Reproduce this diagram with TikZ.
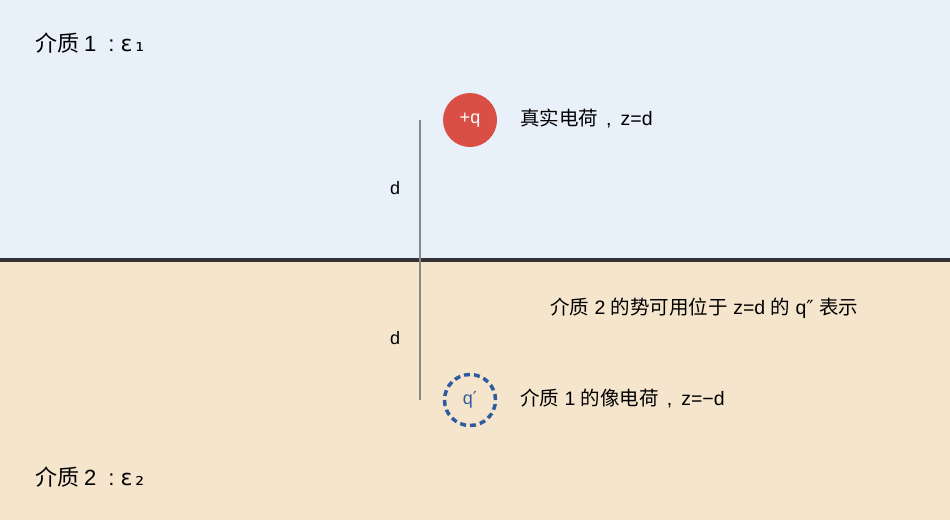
\documentclass[tikz,border=0pt]{standalone}
\usepackage{fontspec}
\setmainfont{Liberation Sans}
\newfontfamily\cjk{Noto Sans CJK SC}
\newfontfamily\dejavu{DejaVu Sans}
\usepackage{tikz}

\definecolor{topbg}{HTML}{E8F0FA}
\definecolor{botbg}{HTML}{F5E5CD}
\definecolor{chargered}{HTML}{D94F45}
\definecolor{imageblue}{HTML}{2E5C9E}
\definecolor{axisgray}{HTML}{888888}
\tikzset{
  lbl/.style={anchor=west,inner sep=0pt,font=\fontsize{19.5}{22}\selectfont,text=black},
  medium/.style={anchor=west,inner sep=0pt,font=\fontsize{22}{24}\selectfont,text=black},
  dlbl/.style={inner sep=0pt,font=\fontsize{18}{20}\selectfont}
}

\begin{document}
\begin{tikzpicture}[x=1pt,y=-1pt]
\useasboundingbox (0,0) rectangle (950,520);
\fill[topbg] (0,0) rectangle (950,260);
\fill[botbg] (0,260) rectangle (950,520);
\draw[line width=4pt,black!80] (0,260)--(950,260);

\coordinate (top) at (420,120);
\coordinate (bot) at (420,400);
\draw[axisgray,line width=2pt] (top)--(bot);

\node[circle,fill=chargered,minimum size=54pt,inner sep=0pt,text=white,font=\fontsize{18}{20}\selectfont] (q) at (470,120) {+q};
\node[circle,draw=imageblue,dash pattern=on 6pt off 4pt,line width=3.5pt,minimum size=51pt,inner sep=0pt,text=imageblue,font=\fontsize{18}{20}\selectfont] (qp) at (470,400) {q{\dejavu ′}};

\node[medium] (m1) at (35,43) {{\cjk 介质}\hspace{5pt}1\hspace{12pt}:\hspace{6pt}{\dejavu ε\hspace{3pt}₁}};
\node[medium] (m2) at (35,477) {{\cjk 介质}\hspace{5pt}2\hspace{12pt}:\hspace{6pt}{\dejavu ε\hspace{3pt}₂}};
\node[lbl] (real) at (520,118) {{\cjk 真实电荷}\hspace{8pt},\hspace{9pt}z=d};
\node[lbl] (img) at (520,398) {{\cjk 介质} 1 {\cjk 的像电荷}\hspace{8pt},\hspace{9pt}z=−d};
\node[lbl] (pot) at (550,308) {{\cjk 介质} 2 {\cjk 的势可用位于} z=d {\cjk 的} q{\dejavu ″} {\cjk 表示}};

\node[dlbl] (d1) at (395,188) {d};
\node[dlbl] (d2) at (395,338) {d};
\end{tikzpicture}
\end{document}
